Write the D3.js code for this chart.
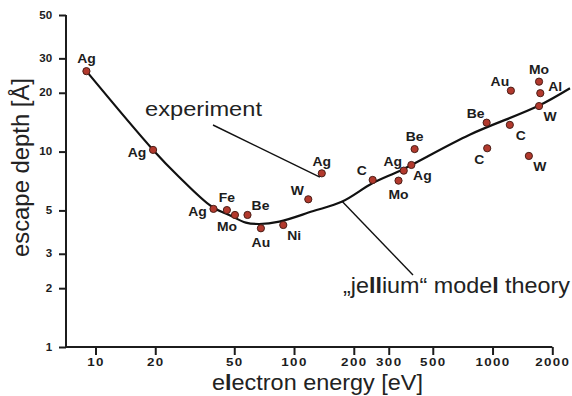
<!DOCTYPE html>
<html>
<head>
<meta charset="utf-8">
<script src="https://cdn.jsdelivr.net/npm/d3@7"></script>
<style>
  html, body { margin: 0; padding: 0; background: #fff; }
  svg { display: block; }
  text { font-family: "Liberation Sans", Arial, Helvetica, sans-serif; }
</style>
</head>
<body>
<svg id="chart" width="572" height="396"></svg>
<script>
// ---- data ----
const xTicks = [10, 20, 50, 100, 200, 300, 500, 1000, 2000];
const yTicks = [1, 2, 3, 5, 10, 20, 30, 50];

const elements = ["Ag","Ag","Ag","Fe","Mo","Be","Au","Ni","W","Ag","C","Mo","Ag","Ag","Be","Be","C","C","Au","W","Mo","Al","W"];
const energies = [9.0, 19.5, 39.3, 45.9, 50.4, 58.3, 68.1, 88.3, 118, 138, 249, 336, 357, 390, 405, 934, 940, 1222, 1237, 1524, 1715, 1740, 1715];
const depths   = [25.8, 10.2, 5.09, 5.02, 4.74, 4.74, 4.05, 4.21, 5.70, 7.74, 7.16, 7.10, 7.99, 8.54, 10.3, 14.06, 10.4, 13.7, 20.5, 9.5, 22.8, 19.9, 17.1];
const labelSides = ["n","w","w","n","sw","ne","s","se","nw","n","nw","s","nw","se","n","nw","sw","se","nw","se","n","e","se"];

const theoryEnergy = [9.0, 19.5, 26.3, 38.6, 47.1, 57.2, 66.8, 84.3, 124, 175, 248, 352, 767, 1694, 2455];
const theoryDepth  = [25.8, 10.2, 7.44, 5.22, 4.74, 4.33, 4.26, 4.38, 4.95, 5.55, 6.88, 8.1, 12.2, 17.1, 21.1];

const xTitle = "electron energy [eV]";
const yTitle = "escape depth [Å]";
const expLabel = "experiment";
const theoryLabel = "„jellium“ model theory";

// ---- layout ----
const svg = d3.select("#chart");
const x = d3.scaleLog().domain([10, 2000]).range([95.5, 552.3]);
const y = d3.scaleLog().domain([1, 50]).range([347, 15]);
const axisX0 = 66;
const stretch = 1.16;
const ink = "#1c1c1c";

// axes
const gx = svg.append("g").attr("transform", `translate(0,${y(1)})`)
  .call(d3.axisBottom(x).tickValues(xTicks).tickFormat(d3.format("d")).tickSize(8).tickPadding(3));
gx.select(".domain").remove();
gx.selectAll(".tick line").attr("stroke", ink).attr("stroke-width", 2);
gx.selectAll(".tick text")
  .attr("fill", ink).attr("font-size", 11.5).attr("font-weight", "bold")
  .attr("letter-spacing", 1.2)
  .attr("font-family", "'Liberation Sans', Arial, sans-serif")
  .attr("transform", `scale(${stretch},1)`);

const gy = svg.append("g").attr("transform", `translate(${axisX0},0)`)
  .call(d3.axisLeft(y).tickValues(yTicks).tickFormat(d3.format("d")).tickSize(7).tickPadding(5));
gy.select(".domain").remove();
gy.selectAll(".tick line").attr("stroke", ink).attr("stroke-width", 2);
gy.selectAll(".tick text")
  .attr("fill", ink).attr("font-size", 10).attr("font-weight", "bold")
  .attr("font-family", "'Liberation Sans', Arial, sans-serif")
  .attr("transform", `scale(${stretch},1)`);

// axis lines
svg.append("path")
  .attr("d", `M${axisX0},${y(50)}V${y(1)}H${x(2000)}`)
  .attr("fill", "none").attr("stroke", ink).attr("stroke-width", 2);

// theory curve
const line = d3.line()
  .x((d, i) => x(theoryEnergy[i]))
  .y((d, i) => y(theoryDepth[i]))
  .curve(d3.curveCatmullRom.alpha(0.5));
svg.append("path")
  .attr("d", line(theoryEnergy))
  .attr("fill", "none").attr("stroke", "#111").attr("stroke-width", 2.2);

// data points
const offsets = {
  n: [0, -12], s: [0, 14], w: [-16, 3], e: [15, -6],
  nw: [-11, -9], ne: [13, -9], sw: [-8, 12], se: [11, 11]
};
const pts = svg.append("g");
elements.forEach((el, i) => {
  const cx = x(energies[i]), cy = y(depths[i]);
  pts.append("circle").attr("cx", cx).attr("cy", cy).attr("r", 3.6)
    .attr("fill", "#b2392d").attr("stroke", "#4a1f18").attr("stroke-width", 1);
  const o = offsets[labelSides[i]];
  pts.append("g").attr("transform", `translate(${cx + o[0]},${cy + o[1]})`)
    .append("text")
    .attr("transform", `scale(${stretch},1)`)
    .attr("text-anchor", "middle").attr("dy", "0.35em")
    .attr("font-size", 12).attr("font-weight", "bold").attr("fill", ink)
    .text(el);
});

// annotation lines
svg.append("line").attr("x1", 213).attr("y1", 125).attr("x2", x(135)).attr("y2", y(7.4))
  .attr("stroke", "#111").attr("stroke-width", 1.4);
svg.append("line").attr("x1", x(175)).attr("y1", y(5.55)).attr("x2", 413).attr("y2", 275)
  .attr("stroke", "#111").attr("stroke-width", 1.4);

// helper for text with bold "l" (matching the source rendering)
function richText(sel, str) {
  str.split(/(l+)/).forEach(part => {
    if (!part) return;
    const t = sel.append("tspan").text(part);
    if (/^l+$/.test(part)) t.attr("font-weight", "bold");
  });
}

// annotation texts
svg.append("text").attr("x", 145).attr("y", 116)
  .attr("font-size", 20.5).attr("fill", "#222")
  .attr("textLength", 117).attr("lengthAdjust", "spacingAndGlyphs")
  .text(expLabel);

const tj = svg.append("text").attr("x", 343).attr("y", 293)
  .attr("font-size", 22).attr("fill", "#222")
  .attr("textLength", 227).attr("lengthAdjust", "spacingAndGlyphs");
richText(tj, theoryLabel);

// axis titles
const tx = svg.append("text").attr("x", 212).attr("y", 390)
  .attr("font-size", 22).attr("fill", "#222")
  .attr("textLength", 211).attr("lengthAdjust", "spacingAndGlyphs");
richText(tx, xTitle);

svg.append("text")
  .attr("transform", "translate(29,167.5) rotate(-90)")
  .attr("text-anchor", "middle")
  .attr("font-size", 23.5).attr("fill", "#222")
  .attr("textLength", 179).attr("lengthAdjust", "spacingAndGlyphs")
  .text(yTitle);
</script>
</body>
</html>
